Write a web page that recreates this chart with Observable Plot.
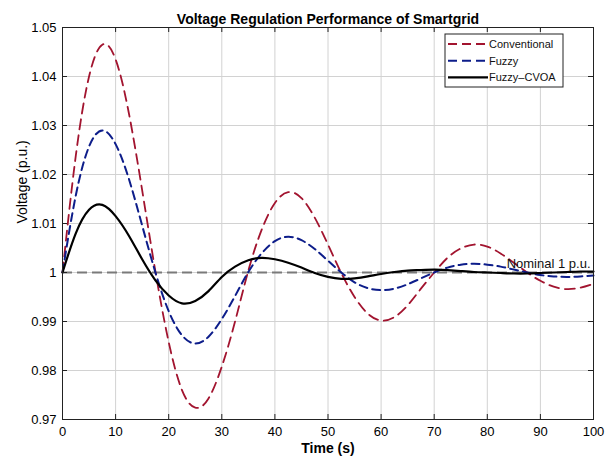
<!DOCTYPE html>
<html><head><meta charset="utf-8">
<script src="https://cdn.jsdelivr.net/npm/d3@7"></script>
<script src="https://cdn.jsdelivr.net/npm/@observablehq/plot@0.6"></script>
<style>
html,body{margin:0;padding:0;background:#fff;}
#chart{position:relative;width:610px;height:463px;}
</style>
</head><body><div id="chart"></div>
<script>
// ---- data ----
const time = [0,2.5,5,7.5,10,12.5,15,17.5,20,22.5,25,27.5,30,32.5,35,37.5,40,42.5,45,47.5,50,52.5,55,57.5,60,62.5,65,67.5,70,72.5,75,77.5,80,82.5,85,87.5,90,92.5,95,97.5,100];
const conventional = [1.0000,1.0238,1.0400,1.0465,1.0435,1.0325,1.0168,1.0002,0.9858,0.9760,0.9724,0.9743,0.9808,0.9900,1.0004,1.0087,1.0142,1.0164,1.0152,1.0112,1.0057,0.9999,0.9950,0.9916,0.9902,0.9909,0.9933,0.9967,1.0000,1.0030,1.0049,1.0057,1.0053,1.0039,1.0020,1.0000,0.9983,0.9971,0.9966,0.9969,0.9977];
const fuzzy = [1.0000,1.0157,1.0257,1.0290,1.0262,1.0191,1.0096,1.0000,0.9921,0.9872,0.9855,0.9869,0.9905,0.9952,1.0001,1.0039,1.0064,1.0073,1.0066,1.0048,1.0024,1.0000,0.9980,0.9968,0.9964,0.9967,0.9976,0.9988,1.0000,1.0010,1.0016,1.0018,1.0016,1.0012,1.0006,1.0000,0.9995,0.9992,0.9991,0.9992,0.9994];
const fuzzyCVOA = [1.0000,1.0080,1.0128,1.0138,1.0115,1.0075,1.0027,0.9984,0.9953,0.9937,0.9942,0.9962,0.9991,1.0012,1.0025,1.0030,1.0027,1.0020,1.0010,0.9999,0.9991,0.9987,0.9988,0.9992,0.9997,1.0001,1.0004,1.0005,1.0006,1.0005,1.0003,1.0001,1.0000,0.9999,0.9998,0.9998,0.9999,1.0000,1.0001,1.0002,1.0002];
const seriesNames = ["Conventional", "Fuzzy", "Fuzzy–CVOA"];
const xTicks = [0,10,20,30,40,50,60,70,80,90,100];
const yTicks = [0.97,0.98,0.99,1,1.01,1.02,1.03,1.04,1.05];
const yTickLabels = ["0.97","0.98","0.99","1","1.01","1.02","1.03","1.04","1.05"];
const nominal = 1;
const nominalLabel = "Nominal 1 p.u.";
const titleText = "Voltage Regulation Performance of Smartgrid";
const xLabel = "Time (s)";
const yLabel = "Voltage (p.u.)";

// ---- styles ----
const colors = ["#A2142F", "#0d1d8a", "#000000"];
const dashes = ["10,6", "8,5", null];
const widths = [1.8, 2, 2.2];
const FONT = "'Liberation Sans', Arial, Helvetica, sans-serif";

const W = 610, H = 463, mL = 62, mR = 17, mT = 27, mB = 44;
const plotW = W - mL - mR, plotH = H - mT - mB;

const seriesVals = [conventional, fuzzy, fuzzyCVOA];
const rows = seriesNames.map((name, k) => time.map((t, i) => ({series: name, t, v: seriesVals[k][i]})));

const lineMarks = rows.map((data, k) => Plot.line(data, {
  x: "t", y: "v", curve: "natural",
  stroke: colors[k], strokeWidth: widths[k], strokeDasharray: dashes[k]
}));

const chart = Plot.plot({
  width: W, height: H,
  marginLeft: mL, marginRight: mR, marginTop: mT, marginBottom: mB,
  style: {fontFamily: FONT, fontSize: "13px", background: "#fff", color: "#000", overflow: "visible"},
  x: {domain: [0, 100]},
  y: {domain: [0.97, 1.05]},
  marks: [
    Plot.gridX(xTicks, {stroke: "#d2d2d2", strokeOpacity: 1, strokeWidth: 1}),
    Plot.gridY(yTicks, {stroke: "#d2d2d2", strokeOpacity: 1, strokeWidth: 1}),
    Plot.ruleY([nominal], {stroke: "#7a7a7a", strokeWidth: 2, strokeDasharray: "10,5"}),
    ...lineMarks,
    Plot.frame({stroke: "#222", strokeWidth: 1}),
    Plot.tickX(xTicks, {x: d => d, insetTop: plotH - 5, stroke: "#222"}),
    Plot.tickX(xTicks, {x: d => d, insetBottom: plotH - 5, stroke: "#222"}),
    Plot.tickY(yTicks, {y: d => d, insetRight: plotW - 5, stroke: "#222"}),
    Plot.tickY(yTicks, {y: d => d, insetLeft: plotW - 5, stroke: "#222"}),
    Plot.axisX(xTicks, {tickSize: 0, tickPadding: 7, label: null, fontSize: 13}),
    Plot.axisY(yTicks, {tickSize: 0, tickPadding: 6, label: null, fontSize: 13,
      tickFormat: d => yTickLabels[yTicks.indexOf(d)]}),
    Plot.text([{t: 100, v: nominal, label: nominalLabel}], {
      x: "t", y: "v", text: "label", textAnchor: "end", dx: -3, dy: -9, fontSize: 13, fill: "#111"
    }),
    Plot.text([titleText], {frameAnchor: "top", dy: -13, fontWeight: "bold", fontSize: 14}),
    Plot.text([xLabel], {frameAnchor: "bottom", dy: 33, fontWeight: "bold", fontSize: 14}),
    Plot.text([yLabel], {frameAnchor: "left", dx: -40, rotate: -90, fontSize: 14})
  ]
});
document.getElementById("chart").appendChild(chart);

// ---- legend (top-right, inside axes) ----
const svg = d3.select(chart);
const lg = svg.append("g").attr("class", "legend")
  .attr("font-family", FONT).attr("font-size", 11).attr("text-anchor", "start");
const lx = 445, ly = 34, lw = 118, lh = 53;
lg.append("rect").attr("x", lx).attr("y", ly).attr("width", lw).attr("height", lh)
  .attr("fill", "#fff").attr("stroke", "#222").attr("stroke-width", 1);
seriesNames.forEach((name, k) => {
  const yy = ly + 10 + k * 16.7;
  lg.append("line").attr("x1", lx + 3).attr("x2", lx + 43).attr("y1", yy).attr("y2", yy)
    .attr("stroke", colors[k]).attr("stroke-width", widths[k])
    .attr("stroke-dasharray", dashes[k] ? "9,5" : null);
  lg.append("text").attr("x", lx + 44).attr("y", yy).attr("dy", "0.35em")
    .attr("text-anchor", "start").attr("fill", "#111").text(name);
});
</script>
</body></html>
